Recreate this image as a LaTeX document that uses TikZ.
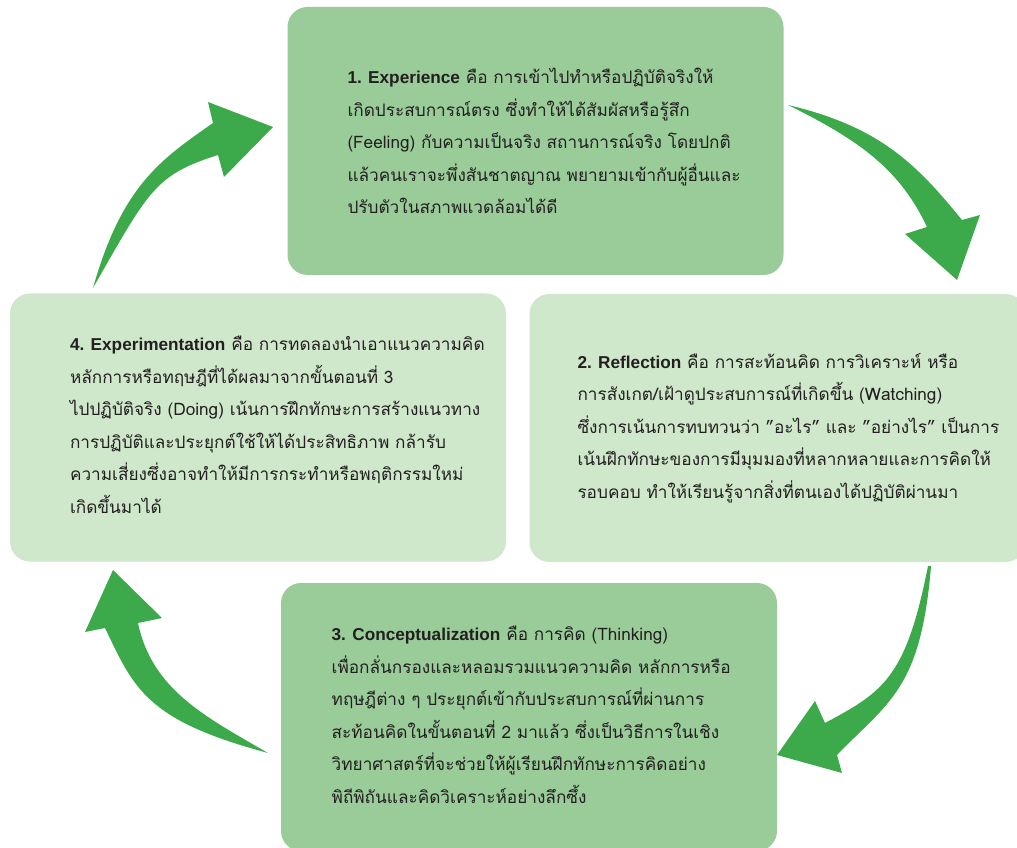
\documentclass[tikz,border=0pt]{standalone}
\usepackage{fontspec}
\setmainfont[Script=Thai]{Loma}
\newfontfamily\headfont{Liberation Sans}
\usetikzlibrary{positioning}
\definecolor{cardDark}{RGB}{153,204,153}
\definecolor{cardLight}{RGB}{207,231,203}
\definecolor{arrowGreen}{RGB}{60,170,75}
\definecolor{inkText}{RGB}{35,31,32}
\newcommand{\stage}[1]{{\headfont\bfseries #1}}

\begin{document}
\begin{tikzpicture}[x=0.75pt,y=-0.75pt,
      every node/.style={font=\fontsize{12.9}{24.4}\selectfont},
      card/.style={rounded corners=15pt,minimum width=372pt,minimum height=201pt,inner sep=0pt},
      txt/.style={align=left,text=inkText,inner sep=0pt},
      cyclearrow/.style={fill=arrowGreen}
    ]
      \useasboundingbox (0,0) rectangle (1017,848);
      \clip (0,0) rectangle (1017,848);
      \node[card,fill=cardDark] (exp) at (535.5,141) {};
      \node[card,fill=cardLight] (ref) at (777.5,428) {};
      \node[card,fill=cardDark] (con) at (529,717) {};
      \node[card,fill=cardLight] (expt) at (258,427.5) {};
      \node[txt,right=45pt of exp.west] (exp-txt) {\stage{1. Experience} คือ การเข้าไปทำหรือปฏิบัติจริงให้\\
        เกิดประสบการณ์ตรง ซึ่งทำให้ได้สัมผัสหรือรู้สึก\\
        (Feeling) กับความเป็นจริง สถานการณ์จริง โดยปกติ\\
        แล้วคนเราจะพึ่งสันชาตญาณ พยายามเข้ากับผู้อื่นและ\\
        ปรับตัวในสภาพแวดล้อมได้ดี};
      \node[txt,right=36pt of ref.west] (ref-txt) {\stage{2. Reflection} คือ การสะท้อนคิด การวิเคราะห์ หรือ\\
        การสังเกต/เฝ้าดูประสบการณ์ที่เกิดขึ้น (Watching)\\
        ซึ่งการเน้นการทบทวนว่า "อะไร" และ "อย่างไร" เป็นการ\\
        เน้นฝึกทักษะของการมีมุมมองที่หลากหลายและการคิดให้\\
        รอบคอบ ทำให้เรียนรู้จากสิ่งที่ตนเองได้ปฏิบัติผ่านมา};
      \node[txt,right=38pt of con.west,yshift=1.5pt] (con-txt) {\stage{3. Conceptualization} คือ การคิด (Thinking)\\
        เพื่อกลั่นกรองและหลอมรวมแนวความคิด หลักการหรือ\\
        ทฤษฎีต่าง ๆ ประยุกต์เข้ากับประสบการณ์ที่ผ่านการ\\
        สะท้อนคิดในขั้นตอนที่ 2 มาแล้ว ซึ่งเป็นวิธีการในเชิง\\
        วิทยาศาสตร์ที่จะช่วยให้ผู้เรียนฝึกทักษะการคิดอย่าง\\
        พิถีพิถันและคิดวิเคราะห์อย่างลึกซึ้ง};
      \node[txt,right=45pt of expt.west,yshift=2pt] (expt-txt) {\stage{4. Experimentation} คือ การทดลองนำเอาแนวความคิด\\
        หลักการหรือทฤษฎีที่ได้ผลมาจากขั้นตอนที่ 3\\
        ไปปฏิบัติจริง (Doing) เน้นการฝึกทักษะการสร้างแนวทาง\\
        การปฏิบัติและประยุกต์ใช้ให้ได้ประสิทธิภาพ กล้ารับ\\
        ความเสี่ยงซึ่งอาจทำให้มีการกระทำหรือพฤติกรรมใหม่\\
        เกิดขึ้นมาได้};
      \fill[cyclearrow] (93,288) .. controls (122,186) and (160,160) .. (213,123) -- (208,102) -- (273,127)
        -- (224,177) -- (218,155) .. controls (155,175) and (149,190) .. cycle;
      \fill[cyclearrow] (788,105) .. controls (881,127) and (917,165) .. (962,220) -- (980,215) -- (957,280)
        -- (905,234) -- (927,227) .. controls (900,170) and (861,141) .. cycle;
      \fill[cyclearrow] (931,566) .. controls (921,690) and (888,702) .. (837,755) -- (842,773) -- (777,755)
        -- (815,701) -- (825,723) .. controls (883,692) and (906,678) .. (928,566) -- cycle;
      \fill[cyclearrow] (268,753) .. controls (145,720) and (134,688) .. (105,628) -- (85,632) -- (113,570)
        -- (162,618) -- (138,623) .. controls (152,690) and (206,717) .. cycle;
    \end{tikzpicture}
\end{document}
